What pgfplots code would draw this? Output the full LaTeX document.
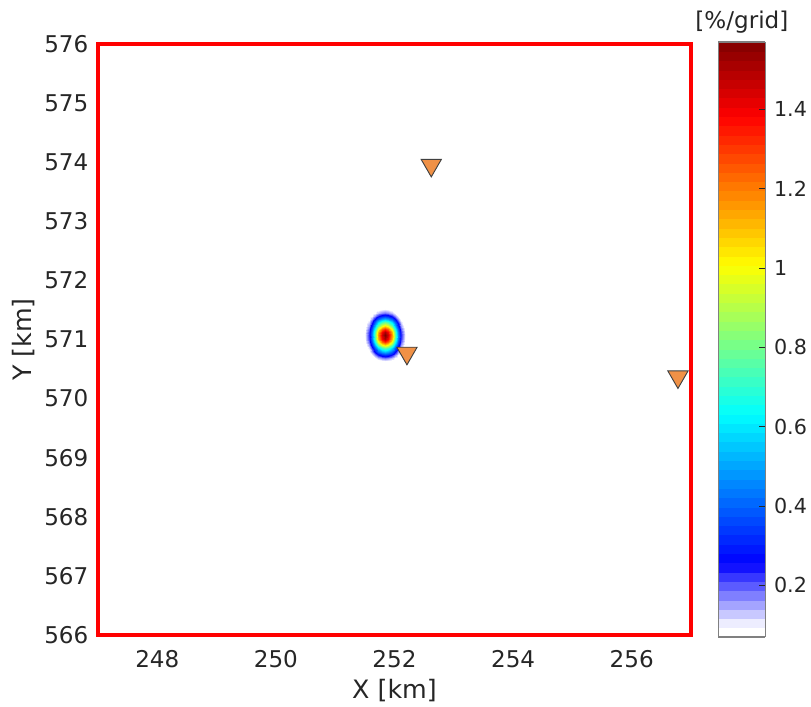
\documentclass[border=0pt]{standalone}
\usepackage{pgfplots}
\usepackage{fontspec}
\setmainfont{DejaVu Sans}
\pgfplotsset{compat=1.18}
\definecolor{txt}{gray}{0.15}
\definecolor{orangem}{RGB}{240,145,70}
\pgfplotstableread{
x y v
251.455 570.575 .001
251.51 570.575 .003
251.565 570.575 .007
251.62 570.575 .013
251.675 570.575 .023
251.73 570.575 .033
251.785 570.575 .042
251.84 570.575 .045
251.895 570.575 .042
251.95 570.575 .033
252.005 570.575 .023
252.06 570.575 .013
252.115 570.575 .007
252.17 570.575 .003
252.225 570.575 .001
251.455 570.63 .002
251.51 570.63 .006
251.565 570.63 .014
251.62 570.63 .028
251.675 570.63 .048
251.73 570.63 .070
251.785 570.63 .088
251.84 570.63 .095
251.895 570.63 .088
251.95 570.63 .070
252.005 570.63 .048
252.06 570.63 .028
252.115 570.63 .014
252.17 570.63 .006
252.225 570.63 .002
251.455 570.685 .004
251.51 570.685 .012
251.565 570.685 .027
251.62 570.685 .054
251.675 570.685 .092
251.73 570.685 .135
251.785 570.685 .170
251.84 570.685 .184
251.895 570.685 .170
251.95 570.685 .135
252.005 570.685 .092
252.06 570.685 .054
252.115 570.685 .027
252.17 570.685 .012
252.225 570.685 .004
251.455 570.74 .008
251.51 570.74 .021
251.565 570.74 .048
251.62 570.74 .096
251.675 570.74 .164
251.73 570.74 .239
251.785 570.74 .301
251.84 570.74 .325
251.895 570.74 .301
251.95 570.74 .239
252.005 570.74 .164
252.06 570.74 .096
252.115 570.74 .048
252.17 570.74 .021
252.225 570.74 .008
251.455 570.795 .012
251.51 570.795 .034
251.565 570.795 .078
251.62 570.795 .155
251.675 570.795 .265
251.73 570.795 .388
251.785 570.795 .487
251.84 570.795 .526
251.895 570.795 .487
251.95 570.795 .388
252.005 570.795 .265
252.06 570.795 .155
252.115 570.795 .078
252.17 570.795 .034
252.225 570.795 .012
251.455 570.85 .018
251.51 570.85 .050
251.565 570.85 .116
251.62 570.85 .230
251.675 570.85 .392
251.73 570.85 .574
251.785 570.85 .722
251.84 570.85 .779
251.895 570.85 .722
251.95 570.85 .574
252.005 570.85 .392
252.06 570.85 .230
252.115 570.85 .116
252.17 570.85 .050
252.225 570.85 .018
251.455 570.905 .025
251.51 570.905 .068
251.565 570.905 .157
251.62 570.905 .312
251.675 570.905 .532
251.73 570.905 .780
251.785 570.905 .981
251.84 570.905 1.058
251.895 570.905 .981
251.95 570.905 .780
252.005 570.905 .532
252.06 570.905 .312
252.115 570.905 .157
252.17 570.905 .068
252.225 570.905 .025
251.455 570.96 .031
251.51 570.96 .085
251.565 570.96 .195
251.62 570.96 .388
251.675 570.96 .663
251.73 570.96 .971
251.785 570.96 1.221
251.84 570.96 1.317
251.895 570.96 1.221
251.95 570.96 .971
252.005 570.96 .663
252.06 570.96 .388
252.115 570.96 .195
252.17 570.96 .085
252.225 570.96 .031
251.455 571.015 .035
251.51 571.015 .097
251.565 571.015 .223
251.62 571.015 .443
251.675 571.015 .756
251.73 571.015 1.107
251.785 571.015 1.392
251.84 571.015 1.502
251.895 571.015 1.392
251.95 571.015 1.107
252.005 571.015 .756
252.06 571.015 .443
252.115 571.015 .223
252.17 571.015 .097
252.225 571.015 .035
251.455 571.07 .037
251.51 571.07 .101
251.565 571.07 .233
251.62 571.07 .463
251.675 571.07 .790
251.73 571.07 1.157
251.785 571.07 1.455
251.84 571.07 1.570
251.895 571.07 1.455
251.95 571.07 1.157
252.005 571.07 .790
252.06 571.07 .463
252.115 571.07 .233
252.17 571.07 .101
252.225 571.07 .037
251.455 571.125 .035
251.51 571.125 .097
251.565 571.125 .223
251.62 571.125 .443
251.675 571.125 .756
251.73 571.125 1.107
251.785 571.125 1.392
251.84 571.125 1.502
251.895 571.125 1.392
251.95 571.125 1.107
252.005 571.125 .756
252.06 571.125 .443
252.115 571.125 .223
252.17 571.125 .097
252.225 571.125 .035
251.455 571.18 .031
251.51 571.18 .085
251.565 571.18 .195
251.62 571.18 .388
251.675 571.18 .663
251.73 571.18 .971
251.785 571.18 1.221
251.84 571.18 1.317
251.895 571.18 1.221
251.95 571.18 .971
252.005 571.18 .663
252.06 571.18 .388
252.115 571.18 .195
252.17 571.18 .085
252.225 571.18 .031
251.455 571.235 .025
251.51 571.235 .068
251.565 571.235 .157
251.62 571.235 .312
251.675 571.235 .532
251.73 571.235 .780
251.785 571.235 .981
251.84 571.235 1.058
251.895 571.235 .981
251.95 571.235 .780
252.005 571.235 .532
252.06 571.235 .312
252.115 571.235 .157
252.17 571.235 .068
252.225 571.235 .025
251.455 571.29 .018
251.51 571.29 .050
251.565 571.29 .116
251.62 571.29 .230
251.675 571.29 .392
251.73 571.29 .574
251.785 571.29 .722
251.84 571.29 .779
251.895 571.29 .722
251.95 571.29 .574
252.005 571.29 .392
252.06 571.29 .230
252.115 571.29 .116
252.17 571.29 .050
252.225 571.29 .018
251.455 571.345 .012
251.51 571.345 .034
251.565 571.345 .078
251.62 571.345 .155
251.675 571.345 .265
251.73 571.345 .388
251.785 571.345 .487
251.84 571.345 .526
251.895 571.345 .487
251.95 571.345 .388
252.005 571.345 .265
252.06 571.345 .155
252.115 571.345 .078
252.17 571.345 .034
252.225 571.345 .012
251.455 571.40 .008
251.51 571.40 .021
251.565 571.40 .048
251.62 571.40 .096
251.675 571.40 .164
251.73 571.40 .239
251.785 571.40 .301
251.84 571.40 .325
251.895 571.40 .301
251.95 571.40 .239
252.005 571.40 .164
252.06 571.40 .096
252.115 571.40 .048
252.17 571.40 .021
252.225 571.40 .008
251.455 571.455 .004
251.51 571.455 .012
251.565 571.455 .027
251.62 571.455 .054
251.675 571.455 .092
251.73 571.455 .135
251.785 571.455 .170
251.84 571.455 .184
251.895 571.455 .170
251.95 571.455 .135
252.005 571.455 .092
252.06 571.455 .054
252.115 571.455 .027
252.17 571.455 .012
252.225 571.455 .004
251.455 571.51 .002
251.51 571.51 .006
251.565 571.51 .014
251.62 571.51 .028
251.675 571.51 .048
251.73 571.51 .070
251.785 571.51 .088
251.84 571.51 .095
251.895 571.51 .088
251.95 571.51 .070
252.005 571.51 .048
252.06 571.51 .028
252.115 571.51 .014
252.17 571.51 .006
252.225 571.51 .002
251.455 571.565 .001
251.51 571.565 .003
251.565 571.565 .007
251.62 571.565 .013
251.675 571.565 .023
251.73 571.565 .033
251.785 571.565 .042
251.84 571.565 .045
251.895 571.565 .042
251.95 571.565 .033
252.005 571.565 .023
252.06 571.565 .013
252.115 571.565 .007
252.17 571.565 .003
252.225 571.565 .001
}\blobtable
\begin{document}
\begin{tikzpicture}
\useasboundingbox (0,0) rectangle (608.25pt,530.25pt);
\begin{axis}[
  at={(73.5pt,54pt)}, anchor=south west,
  scale only axis, width=444.75pt, height=443.25pt,
  xmin=247, xmax=257, ymin=566, ymax=576,
  xtick={248,250,252,254,256}, ytick={566,567,...,576},
  major tick length=0pt,
  /pgf/number format/assume math mode=true,
  /pgf/number format/1000 sep={},
  tick label style={font=\fontsize{17.3}{19}\selectfont, text=txt},
  label style={font=\fontsize{19}{21}\selectfont, text=txt},
  xticklabel shift=8pt, yticklabel shift=3.75pt,
  xlabel={X [km]}, ylabel={Y [km]},
  xlabel style={yshift=-2pt}, ylabel style={yshift=0pt},
  axis line style={red, line width=3pt},
  axis on top,
  colormap={wjet}{rgb255(0cm)=(255,255,255) rgb255(1cm)=(255,255,255) rgb255(8cm)=(0,0,255) rgb255(24cm)=(0,255,255) rgb255(40cm)=(255,255,0) rgb255(56cm)=(255,0,0) rgb255(64cm)=(128,0,0)},
  point meta min=0.07, point meta max=1.57,
  colorbar sampled,
  colorbar style={
    at={(parent axis.north east)}, anchor=north west, xshift=12pt, yshift=1.5pt,
    scale only axis, width=35.25pt, height=446.25pt,
    samples=65,
    ytick={0.2,0.4,0.6,0.8,1,1.2,1.4},
    yticklabels={0.2,0.4,0.6,0.8,1,1.2,1.4},
    ytick pos=right, yticklabel pos=right,
    yticklabel shift=3pt,
    major tick length=4.5pt,
    tick align=inside,
    tick style={txt, line width=0.6pt},
    axis line style={gray, line width=0.8pt},
    tick label style={font=\fontsize{15.5}{17}\selectfont, text=txt},
    title={[\%/grid]},
    title style={font=\fontsize{17.3}{19}\selectfont, text=txt, yshift=-3pt},
  },
]
\addplot[surf, shader=interp, mesh/cols=15, mesh/rows=19, mesh/ordering=x varies, point meta=explicit]
  table[x=x, y=y, meta=v] {\blobtable};
\addplot[only marks, mark=triangle*, mark size=8.8pt,
  mark options={rotate=180, fill=orangem, draw=black!75, line width=0.7pt}]
  coordinates {(252.62,573.95) (252.21,570.77) (256.78,570.37)};
\end{axis}
\end{tikzpicture}
\end{document}
